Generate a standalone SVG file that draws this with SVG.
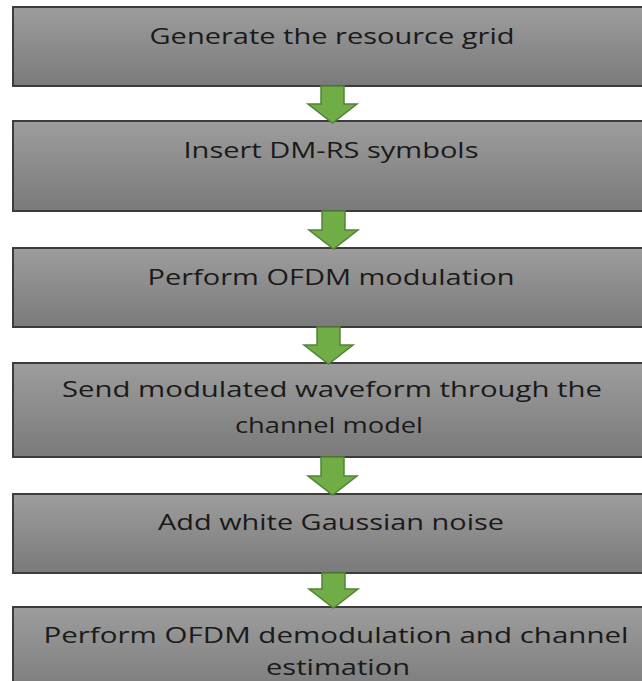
<svg xmlns="http://www.w3.org/2000/svg" width="642" height="681" viewBox="0 0 642 681">
<defs>
<linearGradient id="g" x1="0" y1="0" x2="0" y2="1">
<stop offset="0" stop-color="#9d9d9d"/>
<stop offset="1" stop-color="#7a7a7a"/>
</linearGradient>
<style>
.box{fill:url(#g);stroke:#3c3c3c;stroke-width:2}
.t{font-family:"Open Sans","DejaVu Sans",sans-serif;font-size:22px;fill:#1a1a1a;text-anchor:middle}
.ar{fill:#70ad47;stroke:#548235;stroke-width:1.5;stroke-linejoin:miter}
</style>
</defs>
<rect width="642" height="681" fill="#ffffff"/>
<g id="n1"><rect class="box" x="13" y="7" width="640" height="79"/><text class="t" x="332" y="44" textLength="365" lengthAdjust="spacingAndGlyphs">Generate the resource grid</text></g>
<g id="n2"><rect class="box" x="13" y="121" width="640" height="90"/><text class="t" x="331" y="158" textLength="295" lengthAdjust="spacingAndGlyphs">Insert DM-RS symbols</text></g>
<g id="n3"><rect class="box" x="13" y="248" width="640" height="79"/><text class="t" x="331" y="285" textLength="367" lengthAdjust="spacingAndGlyphs">Perform OFDM modulation</text></g>
<g id="n4"><rect class="box" x="13" y="363" width="640" height="94"/><text class="t" x="332" y="397" textLength="540" lengthAdjust="spacingAndGlyphs">Send modulated waveform through the</text><text class="t" x="329" y="433" textLength="188" lengthAdjust="spacingAndGlyphs">channel model</text></g>
<g id="n5"><rect class="box" x="13" y="494" width="640" height="79"/><text class="t" x="331" y="530" textLength="346" lengthAdjust="spacingAndGlyphs">Add white Gaussian noise</text></g>
<g id="n6"><rect class="box" x="13" y="607" width="640" height="90"/><text class="t" x="336" y="643" textLength="585" lengthAdjust="spacingAndGlyphs">Perform OFDM demodulation and channel</text><text class="t" x="338" y="675" textLength="144" lengthAdjust="spacingAndGlyphs">estimation</text></g>
<g id="connectors">
<path class="ar" d="M321,86 H344 V104 H357 L332.5,123 L308,104 H321 Z"/>
<path class="ar" d="M322,211 H345 V230 H358 L333.5,249 L309,230 H322 Z"/>
<path class="ar" d="M317,327 H340 V345 H353 L328.5,364 L304,345 H317 Z"/>
<path class="ar" d="M321,457 H344 V476 H357 L332.5,495 L308,476 H321 Z"/>
<path class="ar" d="M322,573 H345 V589 H358 L333.5,608 L309,589 H322 Z"/>
</g>
</svg>
